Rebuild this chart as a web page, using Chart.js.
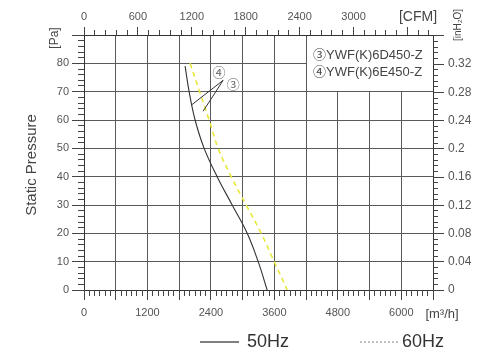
<!DOCTYPE html>
<html><head><meta charset="utf-8">
<script src="https://cdn.jsdelivr.net/npm/chart.js@4"></script>
<style>html,body{margin:0;padding:0;background:#fff;overflow:hidden}canvas{display:block}</style>
</head><body>
<canvas id="c" width="495" height="364"></canvas>
<script>
// ---- data ----
const flow50 = [1912, 1988, 2101, 2272, 2518, 2802, 3086, 3294, 3464];
const pres50 = [79, 70, 60, 50, 40, 30, 20, 10, 0];
const flow60 = [2007, 2187, 2366, 2537, 2783, 3067, 3351, 3597, 3843];
const pres60 = [80, 70, 60, 50, 40, 30, 20, 10, 0];

// ---- ticks ----
const flowGrid = [0, 600, 1200, 1800, 2400, 3000, 3600, 4200, 4800, 5400, 6000, 6600];
const flowLabels = [0, 1200, 2400, 3600, 4800, 6000];
const cfmLabels = [0, 600, 1200, 1800, 2400, 3000];
const paGrid = [0, 10, 20, 30, 40, 50, 60, 70, 80, 90];
const paLabels = [0, 10, 20, 30, 40, 50, 60, 70, 80];
const inLabels = [0, 0.04, 0.08, 0.12, 0.16, 0.2, 0.24, 0.28, 0.32];

const modelNames = ['③YWF(K)6D450-Z', '④YWF(K)6E450-Z'];
const freqNames = ['50Hz', '60Hz'];
const calloutMarks = ['④', '③'];

const FLOW_MAX = 6600, PA_MAX = 90;
const M3H_PER_CFM = 1.69901, PA_PER_INH2O = 249.089;

const FONT = '"Liberation Sans", Arial, "Noto Sans CJK SC", sans-serif';
const zip = (xs, ys) => xs.map((v, i) => ({x: v, y: ys[i]}));

const decor = {
  id: 'decor',
  beforeDatasetsDraw(chart) {
    const {ctx, chartArea: a, scales: {x, y}} = chart;
    const gl = Math.round(x.getPixelForValue(4200) - 0.5);
    const gb = Math.round(y.getPixelForValue(70) - 0.5);
    const gt = Math.round(a.top - 0.5);
    ctx.save();
    ctx.fillStyle = '#fff';
    ctx.fillRect(gl + 1, gt + 1, Math.round(a.right - 0.5) - gl - 1, gb - gt - 1);
    ctx.fillStyle = '#444';
    ctx.font = '13px ' + FONT;
    ctx.textBaseline = 'middle';
    ctx.textAlign = 'left';
    ctx.fillText(modelNames[0], gl + 7, a.top + 20);
    ctx.fillText(modelNames[1], gl + 7, a.top + 37);
    ctx.restore();
  },
  afterDraw(chart) {
    const {ctx, chartArea: a, scales: {x, y, x2, y2}} = chart;
    const al = p => Math.round(p - 0.5) + 0.5;
    ctx.save();
    ctx.strokeStyle = '#444';
    ctx.lineWidth = 1;
    ctx.beginPath();
    for (let v = 0; v <= FLOW_MAX; v += 100) {
      const p = al(x.getPixelForValue(v));
      const len = v % 600 === 0 ? 10 : 6;
      ctx.moveTo(p, a.bottom); ctx.lineTo(p, a.bottom + len);
    }
    for (let c = 0; c <= FLOW_MAX / M3H_PER_CFM; c += 120) {
      const p = al(x2.getPixelForValue(c));
      const len = c % 600 === 0 ? 8 : 5;
      ctx.moveTo(p, a.top); ctx.lineTo(p, a.top - len);
    }
    for (let v = 0; v <= PA_MAX; v += 2) {
      const p = al(y.getPixelForValue(v));
      const len = v % 10 === 0 ? 12 : 6;
      ctx.moveTo(a.left, p); ctx.lineTo(a.left - len, p);
    }
    for (let k = 0; k * 0.008 <= PA_MAX / PA_PER_INH2O; k++) {
      const p = al(y2.getPixelForValue(k * 0.008));
      const len = k % 5 === 0 ? 11 : 5;
      ctx.moveTo(a.right, p); ctx.lineTo(a.right + len, p);
    }
    ctx.stroke();

    // callouts
    const P = (f, pa) => [x.getPixelForValue(f), y.getPixelForValue(pa)];
    const v = P(2631, 74.0);
    const p1 = P(2026, 65.2), p2 = P(2253, 63.1);
    ctx.strokeStyle = '#333';
    ctx.beginPath();
    ctx.moveTo(p1[0], p1[1]); ctx.lineTo(v[0], v[1]); ctx.lineTo(p2[0], p2[1]);
    ctx.stroke();
    ctx.font = '13px "Noto Sans CJK SC", "DejaVu Sans", sans-serif';
    ctx.fillStyle = '#666';
    ctx.textAlign = 'center'; ctx.textBaseline = 'middle';
    const c4 = P(2555, 76.8), c3 = P(2821, 72.6);
    ctx.fillText(calloutMarks[0], c4[0], c4[1]);
    ctx.fillText(calloutMarks[1], c3[0], c3[1]);

    // axis titles & units
    ctx.fillStyle = '#444';
    ctx.font = '15px ' + FONT;
    ctx.save(); ctx.translate(32, 165); ctx.rotate(-Math.PI / 2); ctx.fillText('Static Pressure', 0, 0); ctx.restore();
    ctx.font = '12px ' + FONT;
    ctx.save(); ctx.translate(55, 38); ctx.rotate(-Math.PI / 2); ctx.fillText('[Pa]', 0, 0); ctx.restore();
    ctx.save(); ctx.translate(458, 25); ctx.rotate(-Math.PI / 2); ctx.font = '10px ' + FONT; ctx.fillText('[inH₂O]', 0, 0); ctx.restore();
    ctx.font = '14px ' + FONT;
    ctx.fillText('[CFM]', 418, 17);
    ctx.font = '13px ' + FONT;
    ctx.fillText('[m³/h]', 442, 314);

    // bottom legend
    ctx.strokeStyle = '#555'; ctx.lineWidth = 1.5;
    ctx.beginPath(); ctx.moveTo(200, 342); ctx.lineTo(239, 342); ctx.stroke();
    ctx.strokeStyle = '#888'; ctx.lineWidth = 1; ctx.setLineDash([2, 2]);
    ctx.beginPath(); ctx.moveTo(360, 342); ctx.lineTo(400, 342); ctx.stroke();
    ctx.setLineDash([]);
    ctx.font = '18px ' + FONT; ctx.fillStyle = '#333'; ctx.textAlign = 'left';
    ctx.fillText(freqNames[0], 247, 342);
    ctx.fillText(freqNames[1], 402, 342);
    ctx.restore();
  }
};

const tickFont = {family: FONT, size: 11};
new Chart(document.getElementById('c'), {
  type: 'line',
  data: {
    datasets: [
      {label: freqNames[0], data: zip(flow50, pres50), borderColor: '#333', borderWidth: 1.1,
       pointRadius: 0, tension: 0.4, fill: false},
      {label: freqNames[1], data: zip(flow60, pres60), borderColor: '#e8e840', borderWidth: 1.6,
       borderDash: [5, 4], pointRadius: 0, tension: 0.4, fill: false}
    ]
  },
  options: {
    responsive: false, animation: false, devicePixelRatio: 1,
    layout: {padding: 0},
    plugins: {legend: {display: false}, tooltip: {enabled: false}},
    scales: {
      x: {
        type: 'linear', position: 'bottom', min: 0, max: FLOW_MAX,
        afterBuildTicks: s => { s.ticks = flowGrid.map(v => ({value: v})); },
        afterFit: s => { s.height = 74; },
        grid: {color: '#5a5a5a', lineWidth: 1, drawTicks: false},
        border: {display: true, color: '#333', width: 1},
        ticks: {autoSkip: false, maxRotation: 0, padding: 16, color: '#555', font: tickFont,
                callback: v => flowLabels.includes(v) ? String(v) : ''}
      },
      x2: {
        type: 'linear', position: 'top', min: 0, max: FLOW_MAX / M3H_PER_CFM,
        afterBuildTicks: s => { s.ticks = cfmLabels.map(v => ({value: v})); },
        afterFit: s => { s.height = 35; },
        grid: {drawOnChartArea: false, drawTicks: false},
        border: {display: true, color: '#333', width: 1},
        ticks: {autoSkip: false, maxRotation: 0, padding: 11, color: '#555', font: tickFont,
                callback: v => String(v)}
      },
      y: {
        type: 'linear', position: 'left', min: 0, max: PA_MAX,
        afterBuildTicks: s => { s.ticks = paGrid.map(v => ({value: v})); },
        afterFit: s => { s.width = 84; },
        grid: {color: '#5a5a5a', lineWidth: 1, drawTicks: false},
        border: {display: true, color: '#333', width: 1},
        ticks: {autoSkip: false, padding: 15, color: '#555', font: tickFont,
                callback: v => paLabels.includes(v) ? String(v) : ''}
      },
      y2: {
        type: 'linear', position: 'right', min: 0, max: PA_MAX / PA_PER_INH2O,
        afterBuildTicks: s => { s.ticks = inLabels.map(v => ({value: v})); },
        afterFit: s => { s.width = 62; },
        grid: {drawOnChartArea: false, drawTicks: false},
        border: {display: true, color: '#333', width: 1},
        ticks: {autoSkip: false, padding: 15, color: '#555', font: {family: FONT, size: 12},
                callback: v => String(+v.toFixed(2))}
      }
    }
  },
  plugins: [decor]
});
</script>
</body></html>
